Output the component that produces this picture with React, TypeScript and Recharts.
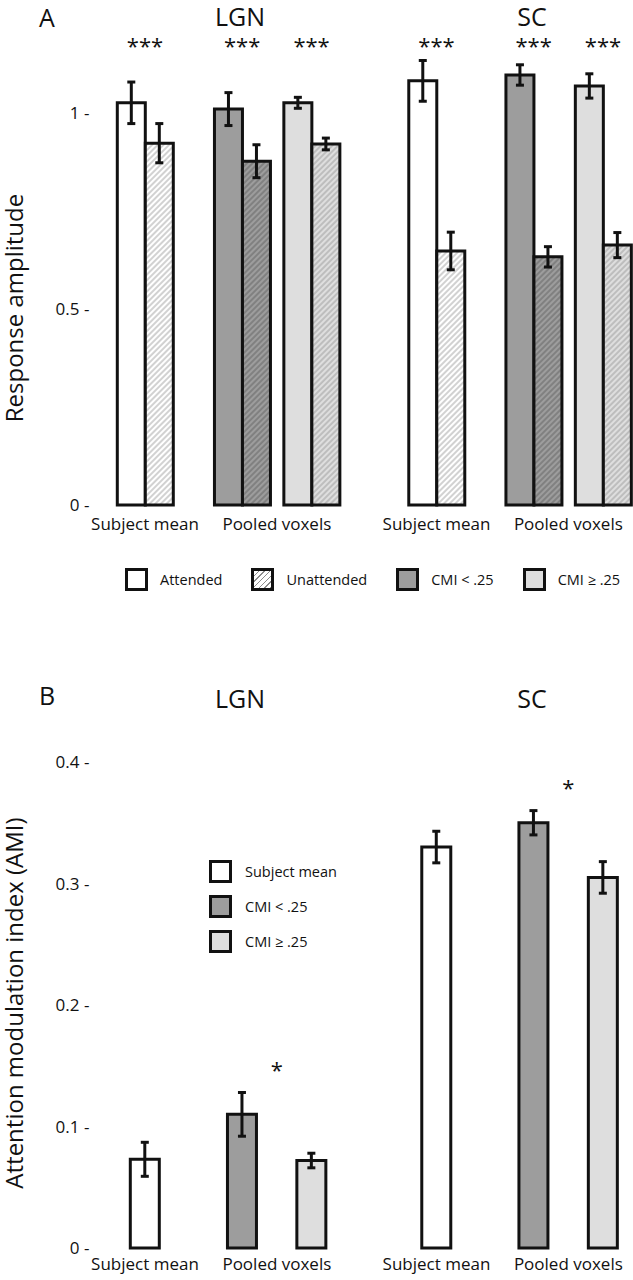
import { ComposedChart, Bar, Cell, XAxis, YAxis, ErrorBar, ReferenceDot, Label } from 'recharts'

// ---- values ----
const barRegion = ['LGN', 'LGN', 'LGN', 'SC', 'SC', 'SC']
const barMeasure = ['Subject mean', 'Pooled voxels', 'Pooled voxels', 'Subject mean', 'Pooled voxels', 'Pooled voxels']
const barSubset = ['Subject mean', 'CMI < .25', 'CMI ≥ .25', 'Subject mean', 'CMI < .25', 'CMI ≥ .25']

// A: response amplitude
const attended = [1.026, 1.01, 1.026, 1.082, 1.097, 1.069]
const attendedSem = [0.053, 0.042, 0.014, 0.052, 0.026, 0.031]
const unattended = [0.923, 0.877, 0.921, 0.648, 0.633, 0.663]
const unattendedSem = [0.05, 0.042, 0.015, 0.048, 0.026, 0.032]
const attendedVsUnattended = ['***', '***', '***', '***', '***', '***']
const responseTicks = [0, 0.5, 1]

// B: attention modulation index
const ami = [0.073, 0.11, 0.072, 0.33, 0.35, 0.305]
const amiSem = [0.014, 0.018, 0.006, 0.013, 0.01, 0.013]
const pooledSubsetDiff = ['*', '*'] // CMI < .25 vs CMI ≥ .25, LGN then SC
const amiTicks = [0, 0.1, 0.2, 0.3, 0.4]

const regions = ['LGN', 'SC']

// ---- layout ----
const W = 633
const FONT = '"Open Sans", sans-serif'
const INK = '#111'
const X_DOMAIN: [number, number] = [-3, 35]
const MARGIN_X = { left: 3.36, right: 2.2 }
const Y_AXIS_W = 100
// spacing (in x units) between neighbouring bars
const STEP_SUBSET = 5
const STEP_MEASURE = 7
const STEP_REGION = 9

const slots: number[] = []
barRegion.forEach((r, i) => {
  if (i === 0) return slots.push(0)
  const step =
    r !== barRegion[i - 1] ? STEP_REGION : barMeasure[i] !== barMeasure[i - 1] ? STEP_MEASURE : STEP_SUBSET
  slots.push(slots[i - 1] + step)
})

const mean = (xs: number[]) => xs.reduce((a, b) => a + b, 0) / xs.length

// x-axis groups (Subject mean / Pooled voxels per region)
const groups: { key: string; label: string; region: string; idx: number[]; x: number }[] = []
barRegion.forEach((r, i) => {
  const key = r + '|' + barMeasure[i]
  let g = groups.find(g => g.key === key)
  if (!g) {
    g = { key, label: barMeasure[i], region: r, idx: [], x: 0 }
    groups.push(g)
  }
  g.idx.push(i)
})
groups.forEach(g => { g.x = mean(g.idx.map(i => slots[i])) })
const groupTicks = groups.map(g => g.x)
const groupLabel = (v: number) => groups.find(g => Math.abs(g.x - v) < 1e-6)?.label ?? ''

const rows = slots.map((x, i) => ({
  x,
  subset: barSubset[i],
  attended: attended[i],
  attendedSem: attendedSem[i],
  unattended: unattended[i],
  unattendedSem: unattendedSem[i],
  star: attendedVsUnattended[i],
  ami: ami[i],
  amiSem: amiSem[i],
}))

const SOLID: Record<string, string> = {
  'Subject mean': '#ffffff',
  'CMI < .25': '#9d9d9d',
  'CMI ≥ .25': '#dedede',
}
const HATCH_LINE: Record<string, string> = {
  'Subject mean': '#8c8c8c',
  'CMI < .25': '#555555',
  'CMI ≥ .25': '#8c8c8c',
}
const subsets = ['Subject mean', 'CMI < .25', 'CMI ≥ .25']
const hatchId = (s: string) => `hatch-${subsets.indexOf(s)}`

const topStarLevel = Math.max(...attended.map((v, i) => v + attendedSem[i])) + 0.048

const amiStars = regions.map((r, k) => {
  const g = groups.find(g => g.region === r && g.label === 'Pooled voxels')!
  const top = Math.max(...g.idx.map(i => ami[i] + amiSem[i]))
  return { x: g.x, y: top + 0.022, text: pooledSubsetDiff[k] }
})

const starShape = (text: string) => (p: any) => (
  <text x={p.cx} y={p.cy + 12} textAnchor="middle" fontSize={22} fill={INK} fontFamily={FONT}>
    {text}
  </text>
)

const yTitle = (text: string, cy: number) => () => (
  <text
    transform={`translate(23, ${cy}) rotate(-90)`}
    textAnchor="middle"
    fontSize={24}
    fill={INK}
    fontFamily={FONT}
  >
    {text}
  </text>
)

const tickStyle = { fill: INK, fontSize: 17, fontFamily: FONT }

function ResponsePanel() {
  return (
    <ComposedChart
      width={W}
      height={600}
      data={rows}
      barGap={0}
      margin={{ top: 15, right: MARGIN_X.right, bottom: 65, left: MARGIN_X.left }}
    >
      <defs>
        {subsets.map(s => (
          <pattern
            key={s}
            id={hatchId(s)}
            patternUnits="userSpaceOnUse"
            width={4}
            height={4}
            patternTransform="rotate(45)"
          >
            <rect width={4} height={4} fill={SOLID[s]} />
            <line x1={2} y1={0} x2={2} y2={4} stroke={HATCH_LINE[s]} strokeWidth={0.8} />
          </pattern>
        ))}
      </defs>
      <XAxis
        type="number"
        dataKey="x"
        domain={X_DOMAIN}
        ticks={groupTicks}
        interval={0}
        tickFormatter={groupLabel}
        axisLine={false}
        tickLine={false}
        tickSize={0}
        tickMargin={13}
        height={30}
        tick={tickStyle}
      />
      <YAxis
        type="number"
        domain={[0, 1.25]}
        ticks={responseTicks}
        tickFormatter={v => `${v} -`}
        axisLine={false}
        tickLine={false}
        tickSize={0}
        tickMargin={14}
        width={Y_AXIS_W}
        tick={tickStyle}
        label={<Label content={yTitle('Response amplitude', 308)} />}
      />
      <Bar dataKey="attended" barSize={28} stroke={INK} strokeWidth={3} isAnimationActive={false}>
        {rows.map((r, i) => (
          <Cell key={i} fill={SOLID[r.subset]} />
        ))}
        <ErrorBar dataKey="attendedSem" width={4} strokeWidth={3} stroke={INK} isAnimationActive={false} />
      </Bar>
      <Bar dataKey="unattended" barSize={28} stroke={INK} strokeWidth={3} isAnimationActive={false}>
        {rows.map((r, i) => (
          <Cell key={i} fill={`url(#${hatchId(r.subset)})`} />
        ))}
        <ErrorBar dataKey="unattendedSem" width={4} strokeWidth={3} stroke={INK} isAnimationActive={false} />
      </Bar>
      {rows.map((r, i) => (
        <ReferenceDot key={i} x={r.x} y={topStarLevel} r={0} shape={starShape(r.star)} />
      ))}
    </ComposedChart>
  )
}

function AmiPanel() {
  return (
    <ComposedChart
      width={W}
      height={680}
      data={rows}
      margin={{ top: 162, right: MARGIN_X.right, bottom: 2, left: MARGIN_X.left }}
    >
      <XAxis
        type="number"
        dataKey="x"
        domain={X_DOMAIN}
        ticks={groupTicks}
        interval={0}
        tickFormatter={groupLabel}
        axisLine={false}
        tickLine={false}
        tickSize={0}
        tickMargin={10}
        height={30}
        tick={tickStyle}
      />
      <YAxis
        type="number"
        domain={[0, 0.4]}
        ticks={amiTicks}
        tickFormatter={v => `${v} -`}
        axisLine={false}
        tickLine={false}
        tickSize={0}
        tickMargin={14}
        width={Y_AXIS_W}
        tick={tickStyle}
        label={<Label content={yTitle('Attention modulation index (AMI)', 403)} />}
      />
      <Bar dataKey="ami" barSize={29} stroke={INK} strokeWidth={3} isAnimationActive={false}>
        {rows.map((r, i) => (
          <Cell key={i} fill={SOLID[r.subset]} />
        ))}
        <ErrorBar dataKey="amiSem" width={4} strokeWidth={3} stroke={INK} isAnimationActive={false} />
      </Bar>
      {amiStars.map((s, i) => (
        <ReferenceDot key={i} x={s.x} y={s.y} r={0} shape={starShape(s.text)} />
      ))}
    </ComposedChart>
  )
}

const swatch = (background: string) => ({
  width: 23,
  height: 23,
  flex: '0 0 auto',
  boxSizing: 'border-box' as const,
  border: `3px solid ${INK}`,
  background,
})
const hatchCss = (s: string) =>
  `repeating-linear-gradient(135deg, ${SOLID[s]} 0 3px, ${HATCH_LINE[s]} 3px 4px)`

const topLegend = [
  { label: 'Attended', bg: SOLID['Subject mean'] },
  { label: 'Unattended', bg: hatchCss('Subject mean') },
  { label: 'CMI < .25', bg: SOLID['CMI < .25'] },
  { label: 'CMI ≥ .25', bg: SOLID['CMI ≥ .25'] },
]
const bottomLegend = subsets.map(s => ({ label: s, bg: SOLID[s] }))

export default function App() {
  return (
    <div style={{ position: 'absolute', left: 0, top: 0, width: W, height: 1280, overflow: 'hidden', background: '#fff', fontFamily: FONT, color: INK }}>
      <div style={{ position: 'absolute', left: 0, top: 0 }}>
        <ResponsePanel />
      </div>
      <div style={{ position: 'absolute', left: 0, top: 600 }}>
        <AmiPanel />
      </div>

      <svg width={W} height={1280} style={{ position: 'absolute', left: 0, top: 0, pointerEvents: 'none' }}>
        <g fontFamily={FONT} fill={INK} textAnchor="middle">
          <text x={47} y={27} fontSize={25}>A</text>
          <text x={47} y={705} fontSize={25}>B</text>
          {regions.map((r, i) => (
            <g key={r}>
              <text x={[240, 532][i]} y={26} fontSize={25}>{r}</text>
              <text x={[240, 532][i]} y={708} fontSize={25}>{r}</text>
            </g>
          ))}
        </g>
      </svg>

      <div style={{ position: 'absolute', left: 125, top: 568, width: 508, display: 'flex', alignItems: 'center', fontSize: 14.5, whiteSpace: 'nowrap' }}>
        {topLegend.map(it => (
          <div key={it.label} style={{ display: 'flex', alignItems: 'center', marginRight: 29 }}>
            <div style={swatch(it.bg)} />
            <span style={{ marginLeft: 12 }}>{it.label}</span>
          </div>
        ))}
      </div>

      <div style={{ position: 'absolute', left: 209, top: 860, display: 'flex', flexDirection: 'column', gap: 12, fontSize: 14.5, whiteSpace: 'nowrap' }}>
        {bottomLegend.map(it => (
          <div key={it.label} style={{ display: 'flex', alignItems: 'center' }}>
            <div style={swatch(it.bg)} />
            <span style={{ marginLeft: 13 }}>{it.label}</span>
          </div>
        ))}
      </div>
    </div>
  )
}
